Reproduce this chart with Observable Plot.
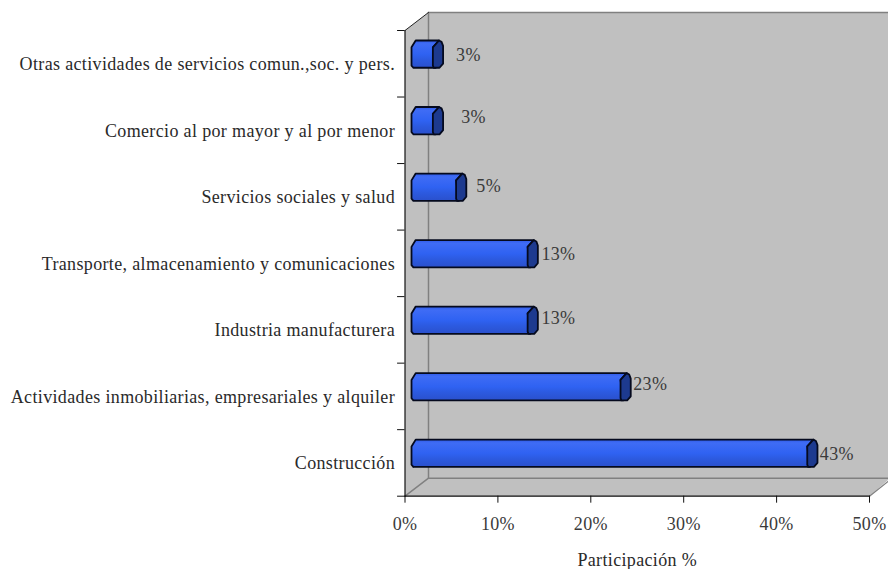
<!DOCTYPE html>
<html><head><meta charset="utf-8">
<script src="https://cdn.jsdelivr.net/npm/d3@7"></script>
<script src="https://cdn.jsdelivr.net/npm/@observablehq/plot@0.6"></script>
<style>html,body{margin:0;padding:0;background:#fff;overflow:hidden}svg{display:block}</style>
</head><body><div id="c"></div>
<script>
const categories = ["Construcción","Actividades inmobiliarias, empresariales y alquiler","Industria manufacturera","Transporte, almacenamiento y comunicaciones","Servicios sociales y salud","Comercio al por mayor y al por menor","Otras actividades de servicios comun.,soc. y pers."];
const values = [42.7, 22.6, 12.6, 12.6, 4.9, 2.4, 2.4];
const labels = ["43%","23%","13%","13%","5%","3%","3%"];
const labelNudge = [0.25, 0.27, 0.38, 0.38, 1.08, 1.95, 1.4];
const labelRise = [0.128, 0.18, 0.173, 0.135, 0.16, 0.195, 0.13];
const xTicks = [0,10,20,30,40,50];
const yTicks = [0,1,2,3,4,5,6,7];
const xLabel = "Participación %";

const dx = 2.53, dy = 0.271;            // depth of the box, in axis units
const xMax = 52.2, yMax = 7;
const font = "'Liberation Serif', serif";
const rows = categories.map((c,i)=>({c,i,end:values[i],label:labels[i]}));

const poly = (pts, o) => Plot.line(pts.concat([pts[0]]), {x:d=>d[0], y:d=>d[1], curve:"linear", ...o});
const seg = (pts, o) => Plot.line(pts, {x:d=>d[0], y:d=>d[1], curve:"linear", ...o});

const barOff = 0.7, barLo = 0.44, barHi = 0.85, cap = 1.1;
const barMarks = rows.flatMap(r=>{
  const y0=r.i+barLo, y1=r.i+barHi, s=barOff, e=r.end+barOff-0.1;
  const h=y1-y0;
  const front=[[s+0.2,y0],[s,y0+h*0.08],[s,y1-h*0.25],[s+0.45,y1],[e+cap*.6,y1],[e,y1-h*.25],[e+0.3,y0]];
  const side=[[e+0.1,y0],[e,y0+h*.08],[e,y1-h*0.25],[e+cap*.6,y1],[e+cap*.85,y1-h*.05],[e+cap,y1-h*.2],[e+cap,y0+h*0.15],[e+cap*.65,y0]];
  return [
    poly(front,{fill:"url(#barGrad)",stroke:"#050a1e",strokeWidth:1.8,strokeLinejoin:"round"}),
    poly(side,{fill:"#1d3a8f",stroke:"#050a1e",strokeWidth:1.8,strokeLinejoin:"round"})
  ];
});

const chart = Plot.plot({
  width:888, height:569, margin:0,
  x:{type:"linear",domain:[0,50],range:[404.5,869],axis:null},
  y:{type:"linear",domain:[0,7],range:[495.7,30],axis:null},
  style:{fontFamily:font,background:"#fff",overflow:"hidden",letterSpacing:"0.35px"},
  marks:[
    poly([[0,0],[dx,dy],[xMax,dy],[50,0]],{fill:"#c0c0c0",stroke:"none"}),
    poly([[0,0],[0,yMax],[dx,yMax+dy],[dx,dy]],{fill:"#c0c0c0",stroke:"none"}),
    poly([[dx,dy],[dx,yMax+dy],[xMax,yMax+dy],[xMax,dy]],{fill:"#c0c0c0",stroke:"none"}),
    seg([[dx,yMax+dy],[xMax,yMax+dy]],{stroke:"#808080",strokeWidth:1.5}),
    seg([[dx,dy],[dx,yMax+dy]],{stroke:"#808080",strokeWidth:1.5}),
    seg([[xMax,dy],[dx,dy],[0,0]],{stroke:"#808080",strokeWidth:1.5}),
    seg([[50,0],[xMax,dy*0.9]],{stroke:"#808080",strokeWidth:1.2}),
    seg([[0,yMax],[dx,yMax+dy]],{stroke:"#222",strokeWidth:1}),
    seg([[0,0],[0,yMax]],{stroke:"#111",strokeWidth:1.2}),
    seg([[0,0],[50,0]],{stroke:"#111",strokeWidth:1.2}),
    Plot.ruleX(xTicks,{y1:-0.105,y2:0,stroke:"#111"}),
    Plot.ruleY(yTicks,{x1:-0.8,x2:0,stroke:"#111"}),
    ...barMarks,
    Plot.text(rows,{x:0,y:d=>d.i+0.5,text:"c",textAnchor:"end",dx:-10,dy:0.5,fontSize:18,fill:"#2a2a2a"}),
    Plot.text(rows,{x:d=>d.end+barOff-0.1+cap+labelNudge[d.i],y:d=>d.i+0.5+labelRise[d.i],text:"label",textAnchor:"start",fontSize:18,fill:"#3a3a3a"}),
    Plot.text(xTicks,{x:d=>d,y:0,text:d=>d+"%",dy:28,fontSize:18,fill:"#3a3a3a"}),
    Plot.text([xLabel],{x:25,y:0,text:d=>d,dy:64,fontSize:18,fill:"#2a2a2a"})
  ]
});
const defs = d3.create("svg:defs");
const g = defs.append("linearGradient").attr("id","barGrad").attr("x1",0).attr("x2",0).attr("y1",0).attr("y2",1);
[[0,"#2f5be8"],[0.12,"#3f6cf5"],[0.5,"#2f62f2"],[0.7,"#2c5ae0"],[1,"#2a50cc"]].forEach(([o,c])=>g.append("stop").attr("offset",o).attr("stop-color",c));
chart.insertBefore(defs.node(),chart.firstChild);
document.getElementById("c").appendChild(chart);
</script></body></html>
